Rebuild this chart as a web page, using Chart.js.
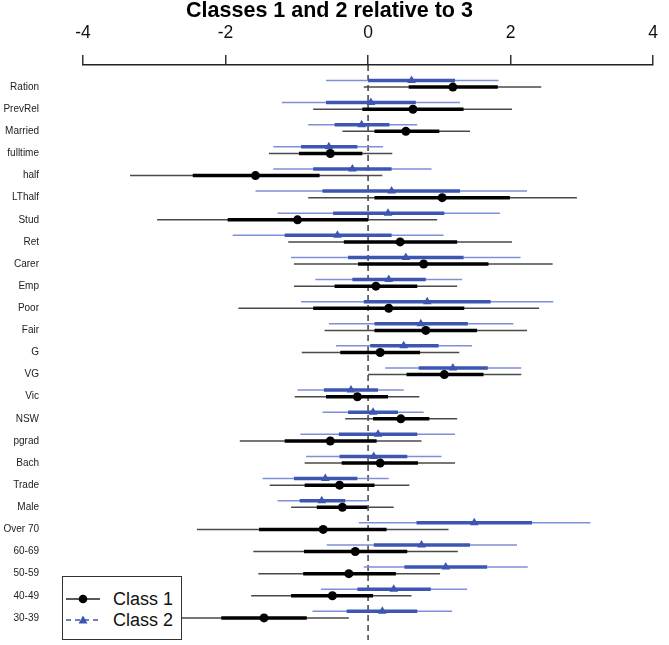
<!DOCTYPE html>
<html>
<head>
<meta charset="utf-8">
<script src="https://cdn.jsdelivr.net/npm/chart.js@4.4.1/dist/chart.umd.min.js"></script>
<style>
  html, body { margin: 0; padding: 0; background: #fff; }
  #wrap { position: relative; width: 669px; height: 645px; }
  #legend {
    position: absolute; left: 62px; top: 576px; width: 120px; height: 64px;
    box-sizing: border-box; border: 1px solid #333; background: #fff;
    font-family: 'Liberation Sans', Arial, sans-serif;
    font-size: 18px; color: #111;
  }
  .row { position: absolute; left: 0; height: 20px; width: 118px; }
  .row svg { position: absolute; left: 2px; top: 5px; }
  .row span { position: absolute; left: 50px; top: 0; line-height: 20px; }
</style>
</head>
<body>
<div id="wrap">
  <canvas id="c" width="669" height="645"></canvas>
  <div id="legend">
    <div class="row" style="top:12px">
      <svg width="36" height="10"><line x1="1" y1="5" x2="35" y2="5" stroke="#222" stroke-width="1.5"/><circle cx="18" cy="5" r="4.3" fill="#000"/></svg>
      <span>Class 1</span>
    </div>
    <div class="row" style="top:33px">
      <svg width="36" height="10"><line x1="1" y1="5" x2="35" y2="5" stroke="#3d56b2" stroke-width="1.5" stroke-dasharray="5,4"/><polygon points="18,0.5 22.5,8.5 13.5,8.5" fill="#3d56b2"/></svg>
      <span>Class 2</span>
    </div>
  </div>
</div>
<script>
const categories = ["Ration","PrevRel","Married","fulltime","half","LThalf","Stud","Ret","Carer","Emp","Poor","Fair","G","VG","Vic","NSW","pgrad","Bach","Trade","Male","Over 70","60-69","50-59","40-49","30-39"];
const xTicks = [-4, -2, 0, 2, 4];

const c1Est     = [1.19,0.63,0.53,-0.53,-1.58,1.04,-0.99,0.45,0.78,0.11,0.29,0.81,0.17,1.07,-0.15,0.46,-0.53,0.17,-0.40,-0.36,-0.63,-0.18,-0.27,-0.50,-1.46];
const c1ThickLo = [0.57,-0.08,0.09,-0.97,-2.46,0.09,-1.97,-0.34,-0.14,-0.47,-0.77,0.09,-0.39,0.54,-0.59,0.07,-1.17,-0.37,-0.89,-0.72,-1.53,-0.90,-0.91,-1.08,-2.06];
const c1ThickHi = [1.82,1.34,1.00,-0.08,-0.68,1.99,0.00,1.25,1.69,0.69,1.35,1.53,0.73,1.62,0.28,0.86,0.12,0.70,0.09,-0.01,0.26,0.55,0.39,0.07,-0.86];
const c1ThinLo  = [-0.06,-0.77,-0.36,-1.39,-3.34,-0.84,-2.96,-1.12,-1.04,-1.04,-1.82,-0.61,-0.93,0.00,-1.03,-0.32,-1.80,-0.89,-1.38,-1.08,-2.40,-1.61,-1.54,-1.64,-2.65];
const c1ThinHi  = [2.43,2.02,1.43,0.34,0.20,2.93,0.97,2.02,2.59,1.25,2.40,2.23,1.28,2.15,0.72,1.25,0.75,1.22,0.58,0.36,1.13,1.26,1.01,0.61,-0.27];

const c2Est     = [0.61,0.04,-0.09,-0.55,-0.22,0.33,0.28,-0.43,0.53,0.29,0.83,0.74,0.50,1.19,-0.24,0.07,0.14,0.08,-0.60,-0.65,1.49,0.75,1.09,0.36,0.20];
const c2ThickLo = [0.00,-0.59,-0.47,-0.94,-0.77,-0.64,-0.49,-1.17,-0.28,-0.22,-0.06,0.09,0.03,0.71,-0.62,-0.28,-0.41,-0.40,-1.04,-0.96,0.68,0.08,0.51,-0.15,-0.30];
const c2ThickHi = [1.22,0.67,0.30,-0.15,0.33,1.29,1.07,0.33,1.34,0.81,1.72,1.40,0.99,1.68,0.14,0.42,0.69,0.55,-0.15,-0.32,2.30,1.43,1.67,0.88,0.69];
const c2ThinLo  = [-0.59,-1.21,-0.84,-1.33,-1.33,-1.58,-1.27,-1.90,-1.08,-0.74,-0.94,-0.55,-0.45,0.24,-0.99,-0.64,-0.95,-0.87,-1.48,-1.27,-0.13,-0.58,-0.06,-0.66,-0.78];
const c2ThinHi  = [1.83,1.29,0.69,0.21,0.89,2.23,1.85,1.06,2.14,1.32,2.60,2.04,1.46,2.15,0.50,0.78,1.22,1.03,0.29,-0.01,3.12,2.09,2.24,1.39,1.18];

const C2_SHIFT = -0.3; // class 2 drawn slightly above class 1 within each row

function segments(lo, hi, shift) {
  const out = [];
  lo.forEach((l, i) => {
    out.push({x: l, y: i + shift}, {x: hi[i], y: i + shift}, {x: l, y: null});
  });
  return out;
}
function points(est, shift) { return est.map((v, i) => ({x: v, y: i + shift})); }

const FONT = "'Liberation Sans', Arial, sans-serif";

const lineDs = (label, data, color, width, order) => ({
  label, data, showLine: true, spanGaps: false, borderColor: color, borderWidth: width,
  pointRadius: 0, borderCapStyle: 'butt', order
});

new Chart(document.getElementById('c'), {
  type: 'scatter',
  data: {
    datasets: [
      {label: 'Class 1', data: points(c1Est, 0), pointStyle: 'circle', pointRadius: 4.5,
       backgroundColor: '#000', borderColor: '#000', borderWidth: 0, order: 0},
      {label: 'Class 2', data: points(c2Est, C2_SHIFT), pointStyle: 'triangle', pointRadius: 5,
       backgroundColor: '#3d56b2', borderColor: '#3d56b2', borderWidth: 0, order: 0},
      lineDs('c1 thick', segments(c1ThickLo, c1ThickHi, 0), '#000', 3.5, 1),
      lineDs('c2 thick', segments(c2ThickLo, c2ThickHi, C2_SHIFT), '#3d56b2', 3.5, 1),
      lineDs('c1 thin', segments(c1ThinLo, c1ThinHi, 0), '#4a4a4a', 1.5, 2),
      lineDs('c2 thin', segments(c2ThinLo, c2ThinHi, C2_SHIFT), '#7d90d8', 1.5, 2),
      Object.assign(lineDs('zero', [{x: 0, y: -1}, {x: 0, y: 25}], '#222', 1.3, 3), {borderDash: [6, 4]})
    ]
  },
  options: {
    responsive: false,
    devicePixelRatio: 1,
    animation: false,
    events: [],
    layout: {padding: {left: 0, right: 10, top: 0, bottom: 4}},
    plugins: {
      legend: {display: false},
      tooltip: {enabled: false},
      title: {
        display: true, text: 'Classes 1 and 2 relative to 3', color: '#000',
        font: {family: FONT, size: 21.5, weight: 'bold', lineHeight: 1}, padding: {top: 0, bottom: 0}
      }
    },
    scales: {
      x: {
        type: 'linear', position: 'top', min: -4, max: 4,
        afterBuildTicks: s => { s.ticks = xTicks.map(v => ({value: v})); },
        afterFit: s => { s.height = 43.5; },
        grid: {display: true, drawOnChartArea: false, drawTicks: true, tickLength: 10, color: '#333', lineWidth: 1.5},
        border: {display: true, color: '#222', width: 1.5},
        ticks: {color: '#111', font: {family: FONT, size: 17.5, lineHeight: 1.2}, padding: 11, maxRotation: 0}
      },
      y: {
        type: 'linear', min: -1, max: 25, reverse: true,
        afterBuildTicks: s => { s.ticks = categories.map((c, i) => ({value: i})); },
        afterFit: s => { s.width = 83; s.paddingTop = 0; s.paddingBottom = 0; },
        grid: {display: false, drawTicks: false},
        border: {display: false},
        ticks: {color: '#222', font: {family: FONT, size: 10}, padding: 44, autoSkip: false,
                callback: v => categories[v]}
      }
    }
  }
});
</script>
</body>
</html>
